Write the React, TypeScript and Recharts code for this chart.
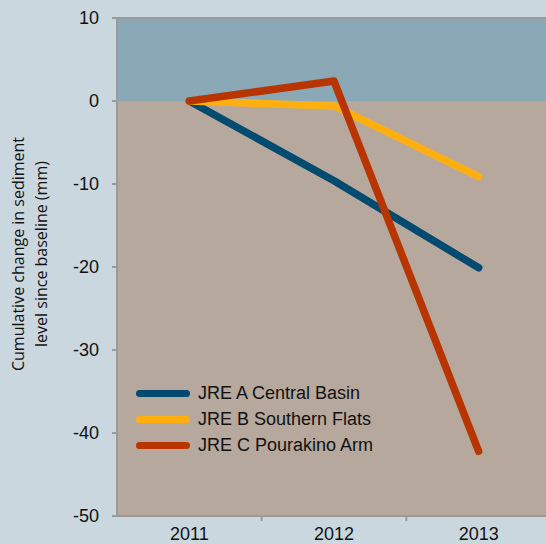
import React from 'react';
import {
    LineChart,
    Line,
    XAxis,
    YAxis,
    ReferenceArea,
    ReferenceLine,
} from 'recharts';

const years = [2011, 2012, 2013];
const centralBasin = [0, -9.6, -20.1];
const southernFlats = [0, -0.6, -9.1];
const pourakinoArm = [0, 2.4, -42.2];
const yTicks = [10, 0, -10, -20, -30, -40, -50];
const boundaries = [2011.5, 2012.5];

const seriesInfo = [
    { key: 'a', name: 'JRE A Central Basin', color: '#004b6f' },
    { key: 'b', name: 'JRE B Southern Flats', color: '#ffb010' },
    { key: 'c', name: 'JRE C Pourakino Arm', color: '#b83500' },
];

const data = years.map((year, i) => ({
    year,
    a: centralBasin[i],
    b: southernFlats[i],
    c: pourakinoArm[i],
}));

const axisColor = '#9a9a9a';
const tickFont = { fill: '#111', fontSize: 18, fontFamily: "'Liberation Sans', Arial, sans-serif" };

const YLabel = (props: any) => {
    const { viewBox } = props;
    const cy = viewBox.y + viewBox.height / 2 - 13;
    return (
        <text
            transform={`rotate(-90, 0, ${cy})`}
            x={0}
            y={cy}
            textAnchor="middle"
            fontFamily="'Open Sans', sans-serif"
            fontSize={16}
            fill="#111"
        >
            <tspan x={0} dy={24}>
                Cumulative change in sediment
            </tspan>
            <tspan x={0} dy={23}>
                level since baseline (mm)
            </tspan>
        </text>
    );
};

// legend drawn as an overlay so it doesn't shrink the plot
const LegendBox = () => (
    <div
        style={{
            position: 'absolute',
            left: 136,
            top: 380,
            fontFamily: "'Liberation Sans', Arial, sans-serif",
            fontSize: 18,
        }}
    >
        {seriesInfo.map((s) => (
            <div
                key={s.key}
                style={{ display: 'flex', alignItems: 'center', height: 26 }}
            >
                <div
                    style={{
                        width: 54,
                        height: 7,
                        borderRadius: 4,
                        background: s.color,
                        marginRight: 8,
                    }}
                />
                <span style={{ color: '#111' }}>{s.name}</span>
            </div>
        ))}
    </div>
);

export default function App() {
    return (
        <div
            style={{
                position: 'absolute',
                left: 0,
                top: 0,
                width: 546,
                height: 544,
                overflow: 'hidden',
                background: '#cbd7df',
            }}
        >
            <LineChart
                width={551}
                height={544}
                data={data}
                margin={{ top: 18, right: 0, left: 0, bottom: 0 }}
            >
                <ReferenceArea y1={0} y2={10} fill="#8ba8b7" fillOpacity={1} stroke="none" />
                <ReferenceArea y1={-50} y2={0} fill="#b6a89c" fillOpacity={1} stroke="none" />
                <ReferenceLine y={10} stroke={axisColor} strokeWidth={2} />
                <XAxis
                    dataKey="year"
                    type="number"
                    domain={[2010.5, 2013.5]}
                    ticks={years}
                    height={28}
                    axisLine={{ stroke: axisColor, strokeWidth: 2 }}
                    tickLine={false}
                    tickSize={5}
                    tickMargin={6}
                    tick={tickFont}
                />
                <YAxis
                    type="number"
                    domain={[-50, 10]}
                    ticks={yTicks}
                    width={117}
                    interval={0}
                    axisLine={{ stroke: axisColor, strokeWidth: 2 }}
                    tickLine={{ stroke: axisColor, strokeWidth: 2 }}
                    tickSize={5}
                    tickMargin={13}
                    tick={tickFont}
                    label={<YLabel />}
                />
                {boundaries.map((b) => (
                    <ReferenceLine
                        key={b}
                        segment={[
                            { x: b, y: -50 },
                            { x: b, y: -50.6 },
                        ]}
                        ifOverflow="visible"
                        stroke={axisColor}
                        strokeWidth={2}
                    />
                ))}
                {seriesInfo.map((s) => (
                    <Line
                        key={s.key}
                        dataKey={s.key}
                        name={s.name}
                        stroke={s.color}
                        strokeWidth={7.5}
                        strokeLinecap="round"
                        strokeLinejoin="round"
                        dot={false}
                        activeDot={false}
                        isAnimationActive={false}
                    />
                ))}
            </LineChart>
            <LegendBox />
        </div>
    );
}
